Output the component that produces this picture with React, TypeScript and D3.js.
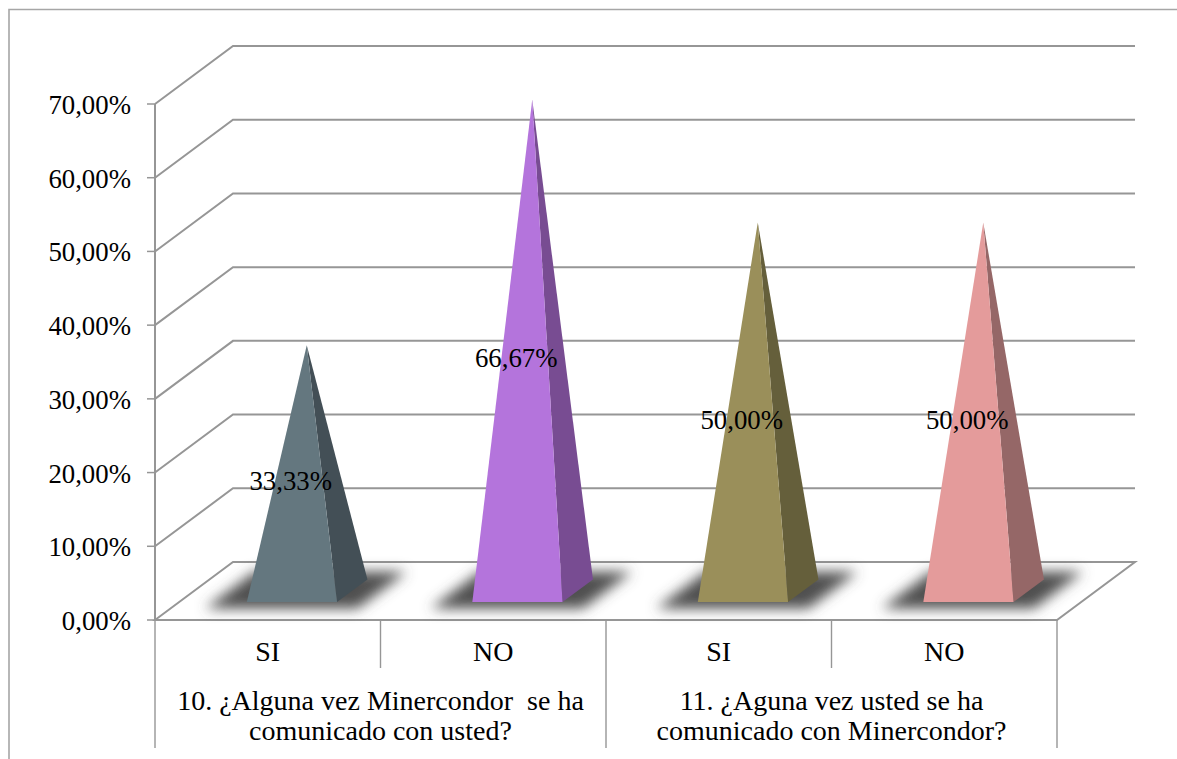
import * as d3 from "d3";

const categories = ["SI", "NO", "SI", "NO"];
const values = [33.33, 66.67, 50, 50];
const valueLabels = ["33,33%", "66,67%", "50,00%", "50,00%"];
const frontColors = ["#64777f", "#b474dc", "#9a8f5a", "#e49b9b"];
const sideColors = ["#434f56", "#784c92", "#655f3b", "#956767"];
const yTicks = [0, 10, 20, 30, 40, 50, 60, 70];
const yTickLabels = ["0,00%", "10,00%", "20,00%", "30,00%", "40,00%", "50,00%", "60,00%", "70,00%"];
const groups = [
  { lines: ["10. ¿Alguna vez Minercondor  se ha", "comunicado con usted?"], span: [0, 2] },
  { lines: ["11. ¿Aguna vez usted se ha", "comunicado con Minercondor?"], span: [2, 4] },
];

const width = 1177;
const height = 759;
const font = "'Liberation Serif', 'Times New Roman', serif";
const fontSize = 26.8;
const axisFontSize = 28;
const axisColor = "#969696";

// plot box, the back wall sits depthX/depthY up and to the right of the front plane
const left = 155;
const right = 1057;
const depthX = 78;
const depthY = 58;

const x = d3.scaleBand<number>().domain(d3.range(categories.length)).range([left, right]);
const y = d3.scaleLinear().domain([0, 70]).range([620, 104]);

// floor / wall projection: u along x axis, d = 0 front to 1 back
const project = (u: number, d: number, v = 0): [number, number] => [u + d * depthX, y(v) - d * depthY];
const poly = (pts: [number, number][]) => d3.line()(pts) + "Z";

export default function App() {
  const halfBase = x.bandwidth() * 0.2;
  return (
    <svg width={width} height={height} style={{ position: "absolute", left: 0, top: 0 }} fontFamily={font} fontSize={fontSize}>
      <defs>
        <filter id="soft" filterUnits="userSpaceOnUse" x="0" y="500" width={width} height="200">
          <feGaussianBlur stdDeviation="6.5" />
        </filter>
      </defs>
      <rect width={width} height={height} fill="#fff" />
      {/* chart frame, cut off by the crop on the right and bottom */}
      <path d={`M9,${height}V9.5H${width}`} fill="none" stroke="#a6a6a6" strokeWidth={1.6} />

      {/* walls */}
      {yTicks.map((t) => {
        const [bx, by] = project(left, 1, t);
        return (
          <g key={t}>
            <path
              d={t === 0 ? "" : `M${left},${y(t)}L${bx},${by}H${right + depthX}`}
              fill="none"
              stroke={axisColor}
              strokeWidth={2}
            />
            <line x1={left - 8} x2={left} y1={y(t)} y2={y(t)} stroke={axisColor} strokeWidth={1.5} />
          </g>
        );
      })}
      <path
        d={poly([project(left, 0), project(left, 1), project(right, 1), project(right, 0)])}
        fill="#fff"
        stroke={axisColor}
        strokeWidth={2}
      />
      <line x1={left} x2={left} y1={y(70)} y2={y(0)} stroke={axisColor} strokeWidth={2} />

      {/* category axis dividers */}
      {[0, 1, 2, 3, 4].map((i) => {
        const px = left + i * x.bandwidth();
        return <line key={i} x1={px} x2={px} y1={y(0)} y2={i % 2 ? 668 : 748} stroke={axisColor} strokeWidth={1.4} />;
      })}

      {/* shadows first so that no pyramid gets covered */}
      {categories.map((_, i) => {
        const c = x(i)! + x.bandwidth() / 2;
        return (
          <path
            key={i}
            d={poly([project(c - 78, 0.2), project(c + 74, 0.2), project(c + 74, 0.83), project(c - 78, 0.83)])}
            fill="#505050"
            filter="url(#soft)"
          />
        );
      })}

      {/* pyramids */}
      {values.map((v, i) => {
        const c = x(i)! + x.bandwidth() / 2;
        const apex = project(c, 0.5, v);
        const fl = project(c - halfBase, 0.31);
        const fr = project(c + halfBase, 0.31);
        const br = project(c + halfBase, 0.7);
        return (
          <g key={i}>
            <path d={poly([apex, fr, br])} fill={sideColors[i]} />
            <path d={poly([apex, fl, fr])} fill={frontColors[i]} />
          </g>
        );
      })}

      {/* data labels */}
      {values.map((v, i) => (
        <text key={i} x={x(i)! + x.bandwidth() / 2 + 23} y={y(v / 2) - 7} textAnchor="middle" fill="#000">
          {valueLabels[i]}
        </text>
      ))}

      {/* y axis labels */}
      {yTicks.map((t, i) => (
        <text key={t} x={131} y={y(t) + 10} textAnchor="end" fill="#000">
          {yTickLabels[i]}
        </text>
      ))}

      {/* category labels */}
      {categories.map((c, i) => (
        <text key={i} x={x(i)! + x.bandwidth() / 2} y={661} textAnchor="middle" fill="#000" fontSize={axisFontSize}>
          {c}
        </text>
      ))}
      {groups.map((g) => {
        const cx = (left + g.span[0] * x.bandwidth() + left + g.span[1] * x.bandwidth()) / 2;
        return g.lines.map((line, j) => (
          <text key={line} x={cx} y={710 + j * 30} textAnchor="middle" fill="#000" fontSize={axisFontSize} style={{ whiteSpace: "pre" }}>
            {line}
          </text>
        ));
      })}
    </svg>
  );
}
